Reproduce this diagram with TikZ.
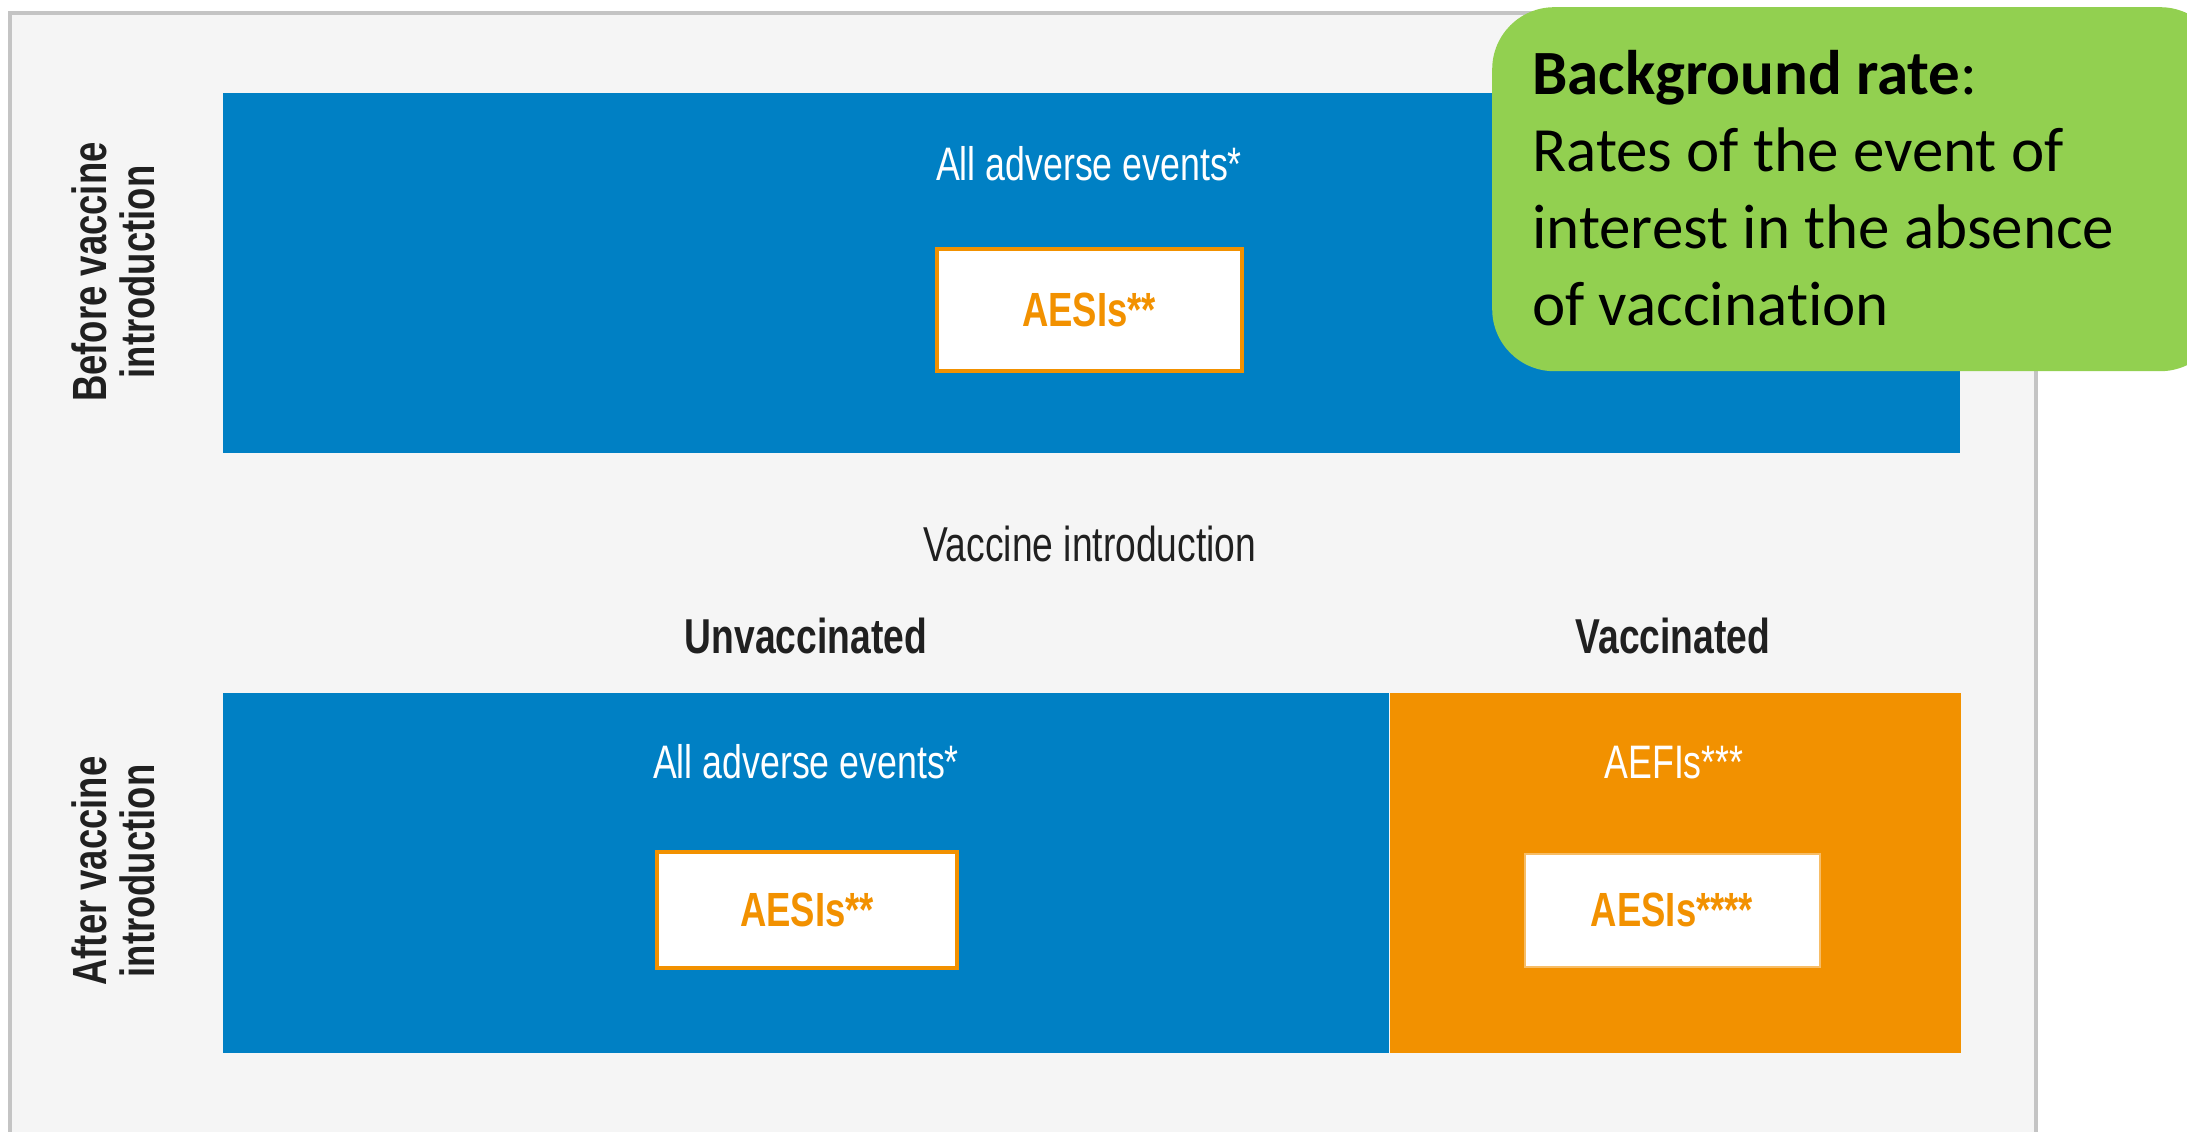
\documentclass[tikz,border=0pt]{standalone}
\usepackage{fontspec}
\setmainfont[Ligatures=NoCommon]{Carlito}
\newfontfamily\narrowfont[FakeStretch=0.76]{Liberation Sans}
\usetikzlibrary{positioning}
\definecolor{eventblue}{HTML}{0080C4}
\definecolor{aefiorange}{HTML}{F29100}
\definecolor{notegreen}{HTML}{92D050}
\definecolor{panelgray}{HTML}{F5F5F5}
\definecolor{framegray}{HTML}{C4C4C4}
\definecolor{labelink}{HTML}{202020}
\tikzset{
    x=1pt, y=-1pt, % one unit per pixel, y runs downwards
    block/.style={inner sep=0pt, anchor=north west}, % coloured period blocks
    eventtext/.style={text=white, anchor=base, font=\narrowfont\fontsize{47}{47}\selectfont}, % white text in the blocks
    aesibox/.style={fill=white, draw=aefiorange, line width=4pt, text=aefiorange, inner sep=0pt, font=\narrowfont\bfseries\fontsize{48}{48}\selectfont}, % the AESI boxes
    header/.style={text=labelink, anchor=base, font=\narrowfont\fontsize{49}{49}\selectfont}, % column titles
    sidelabel/.style={text=labelink, rotate=90, align=center, font=\narrowfont\bfseries\fontsize{48}{48}\selectfont}, % row titles
}

\begin{document}
\begin{tikzpicture}
    \useasboundingbox (0,0) rectangle (2187,1132);
    \clip (0,0) rectangle (2187,1132);
    \fill[white] (0,0) rectangle (2187,1132);
    % panel
    \draw[framegray, line width=4pt, fill=panelgray] (10,1180) -- (10,13) -- (2036,13) -- (2036,1180);

    % before vaccine introduction
    \node[block, fill=eventblue, minimum width=1737pt, minimum height=360pt] (before) at (223,93) {};
    \node[eventtext] (allbefore) at (1089,180) {All adverse events*};
    \node[aesibox, minimum width=305pt, minimum height=122pt] (aesibefore) at (1089,310) {AESIs**};
    \node[sidelabel] (beforelabel) at (113,272) {Before vaccine\\introduction};

    % vaccine introduction
    \node[header] (intro) at (1090,561) {Vaccine introduction};
    \node[header, font=\narrowfont\bfseries\fontsize{49}{49}\selectfont] (unvacc) at (806,653) {Unvaccinated};
    \node[header, font=\narrowfont\bfseries\fontsize{49}{49}\selectfont] (vacc) at (1673,653) {Vaccinated};

    % after vaccine introduction
    \node[block, fill=eventblue, minimum width=1166pt, minimum height=360pt] (after) at (223,693) {};
    \node[block, fill=aefiorange, minimum width=571pt, minimum height=360pt, right=0pt of after] (afterv) {};
    \node[eventtext] (allafter) at (806,778) {All adverse events*};
    \node[aesibox, minimum width=300pt, minimum height=116pt] (aesiafter) at (807,910) {AESIs**};
    \node[eventtext] (aefi) at (1674,778) {AEFIs***};
    \node[aesibox, draw=aefiorange!60, line width=2pt, minimum width=295pt, minimum height=113pt] (aesivacc) at (1672,910) {AESIs****};
    \node[sidelabel] (afterlabel) at (113,871) {After vaccine\\introduction};

    % background rate note
    \node[block, fill=notegreen, rounded corners=62pt, minimum width=730pt, minimum height=364pt] (bgrate) at (1492,7) {};
    \node[anchor=north west, inner sep=0pt, align=left, font=\fontsize{63}{77}\selectfont] (bgtext) at (1532,50)
        {\textbf{Background rate}:\\Rates of the event of\\interest in the absence\\of vaccination};
\end{tikzpicture}
\end{document}
